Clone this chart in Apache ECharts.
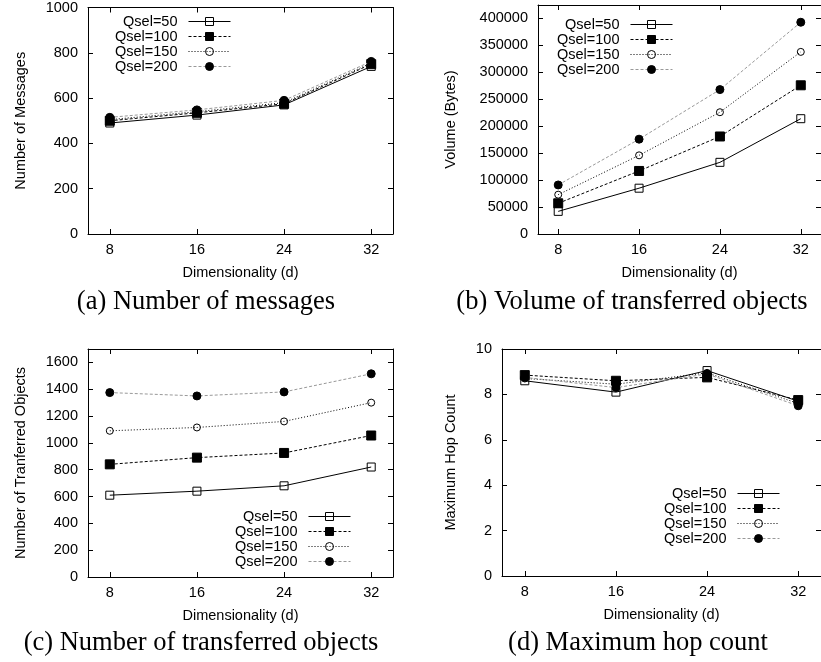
<!DOCTYPE html>
<html>
<head>
<meta charset="utf-8">
<script src="https://cdn.jsdelivr.net/npm/echarts@6/dist/echarts.min.js"></script>
<style>
html,body{margin:0;padding:0;background:#fff;}
#chart{width:821px;height:662px;}
</style>
</head>
<body>
<div id="chart"></div>
<script>
// ---- data ----
const dims = [8, 16, 24, 32];
const seriesNames = ['Qsel=50', 'Qsel=100', 'Qsel=150', 'Qsel=200'];
const xTickValues = [8, 16, 24, 32];

// (a) Number of messages
const msgs50  = [490, 525, 570, 740];
const msgs100 = [500, 535, 575, 750];
const msgs150 = [505, 540, 580, 755];
const msgs200 = [515, 548, 590, 762];
const yTicksA = [0, 200, 400, 600, 800, 1000];

// (b) Volume (Bytes)
const vol50  = [42000, 85000, 133000, 214000];
const vol100 = [57000, 117000, 181000, 276000];
const vol150 = [73000, 146000, 226000, 338000];
const vol200 = [91000, 176000, 268000, 393000];
const yTicksB = [0, 50000, 100000, 150000, 200000, 250000, 300000, 350000, 400000];

// (c) Number of transferred objects
const obj50  = [610, 640, 680, 820];
const obj100 = [840, 890, 925, 1055];
const obj150 = [1090, 1115, 1160, 1300];
const obj200 = [1375, 1350, 1380, 1515];
const yTicksC = [0, 200, 400, 600, 800, 1000, 1200, 1400, 1600];

// (d) Maximum hop count
const hop50  = [8.6, 8.1, 9.05, 7.7];
const hop100 = [8.85, 8.6, 8.75, 7.75];
const hop150 = [8.7, 8.45, 8.95, 7.6];
const hop200 = [8.75, 8.3, 8.9, 7.5];
const yTicksD = [0, 2, 4, 6, 8, 10];

const panelTitles = ['(a) Number of messages', '(b) Volume of transferred objects',
                     '(c) Number of transferred objects', '(d) Maximum hop count'];
const yNames = ['Number of Messages', 'Volume (Bytes)', 'Number of Tranferred Objects', 'Maximum Hop Count'];
const xName = 'Dimensionality (d)';

// ---- layout / styles ----
const FONT = 'Liberation Sans';
const FS = 14.5;
const panels = [
  {grid:{left:88, top:7, width:305, height:227}, yMax:1000, yTicks:yTicksA, vals:[msgs50,msgs100,msgs150,msgs200], nameGap:60,
   legend:{right:590, top:14}},
  {grid:{left:538, top:5, width:286, height:229}, yMax:425000, yTicks:yTicksB, vals:[vol50,vol100,vol150,vol200], nameGap:80,
   legend:{right:148, top:17}},
  {grid:{left:88, top:349, width:305, height:228}, yMax:1700, yTicks:yTicksC, vals:[obj50,obj100,obj150,obj200], nameGap:60,
   legend:{right:470, top:509}},
  {grid:{left:502, top:349, width:322, height:227}, yMax:10, yTicks:yTicksD, vals:[hop50,hop100,hop150,hop200], nameGap:44,
   legend:{right:41, top:486}}
];
const captionPos = [[206, 302], [632, 302], [201, 643], [638, 643]];

const seriesStyles = [
  {symbol:'rect',   size:8, fill:'rgba(0,0,0,0)', line:'#000', type:'solid'},
  {symbol:'rect',   size:9, fill:'#000',          line:'#000', type:[3,2]},
  {symbol:'circle', size:7, fill:'rgba(0,0,0,0)', line:'#000', type:[1,2]},
  {symbol:'circle', size:8, fill:'#000',          line:'#999', type:[3,2]}
];

const labelStyle = {fontFamily: FONT, fontSize: FS, color: '#000'};
const axisLine = {show:true, onZero:false, lineStyle:{color:'#000', width:1}};
const plain = v => String(v);

const grids = [], xAxes = [], yAxes = [], series = [], legends = [];
panels.forEach((p, i) => {
  grids.push(Object.assign({containLabel:false}, p.grid));
  xAxes.push({type:'value', gridIndex:i, min:6, max:34, position:'bottom',
    axisLine, splitLine:{show:false},
    axisTick:{show:true, inside:true, length:5, customValues:xTickValues, lineStyle:{color:'#000'}},
    axisLabel:Object.assign({show:true, margin:8, customValues:xTickValues, formatter:plain}, labelStyle),
    name:xName, nameLocation:'middle', nameGap:31, nameTextStyle:labelStyle});
  yAxes.push({type:'value', gridIndex:i, min:0, max:p.yMax, position:'left',
    axisLine, splitLine:{show:false},
    axisTick:{show:true, inside:true, length:5, customValues:p.yTicks, lineStyle:{color:'#000'}},
    axisLabel:Object.assign({show:true, margin:10, customValues:p.yTicks, formatter:plain}, labelStyle),
    name:yNames[i], nameLocation:'middle', nameGap:p.nameGap, nameRotate:90, nameTextStyle:labelStyle});
});
panels.forEach((p, i) => {
  xAxes.push({type:'value', gridIndex:i, min:6, max:34, position:'top',
    axisLine, splitLine:{show:false},
    axisTick:{show:true, inside:true, length:5, customValues:xTickValues, lineStyle:{color:'#000'}},
    axisLabel:{show:false}});
  yAxes.push({type:'value', gridIndex:i, min:0, max:p.yMax, position:'right',
    axisLine, splitLine:{show:false},
    axisTick:{show:true, inside:true, length:5, customValues:p.yTicks, lineStyle:{color:'#000'}},
    axisLabel:{show:false}});
});
panels.forEach((p, i) => {
  p.vals.forEach((arr, k) => {
    const st = seriesStyles[k];
    series.push({
      type:'line', name:seriesNames[k], xAxisIndex:i, yAxisIndex:i,
      data: dims.map((d, j) => [d, arr[j]]),
      symbol:st.symbol, symbolSize:st.size, showAllSymbol:true,
      lineStyle:{color:st.line, width:1, type:st.type},
      itemStyle:{color:st.fill, borderColor:'#000', borderWidth:1},
      emphasis:{disabled:true}, silent:true, z: 2 + k
    });
  });
  legends.push({
    orient:'vertical', align:'right', right:p.legend.right, top:p.legend.top,
    padding:0, itemGap:0, itemWidth:42, itemHeight:10, selectedMode:false,
    data: seriesNames.slice(),
    lineStyle:{width:1},
    itemStyle:{borderWidth:1},
    textStyle:{fontFamily:FONT, fontSize:FS, color:'#000', lineHeight:15, padding:[0,6,0,0]}
  });
});

const graphics = panelTitles.map((t, i) => ({
  type:'text', x:captionPos[i][0], y:captionPos[i][1], silent:true,
  style:{text:t, font:'26.5px "Liberation Serif"', fill:'#000',
         textAlign:'center', textVerticalAlign:'middle', align:'center', verticalAlign:'middle'}
}));

const chart = echarts.init(document.getElementById('chart'), null, {renderer:'canvas'});
chart.setOption({
  backgroundColor:'#fff',
  animation:false,
  grid:grids, xAxis:xAxes, yAxis:yAxes, series:series, legend:legends,
  graphic:graphics
});
</script>
</body>
</html>
